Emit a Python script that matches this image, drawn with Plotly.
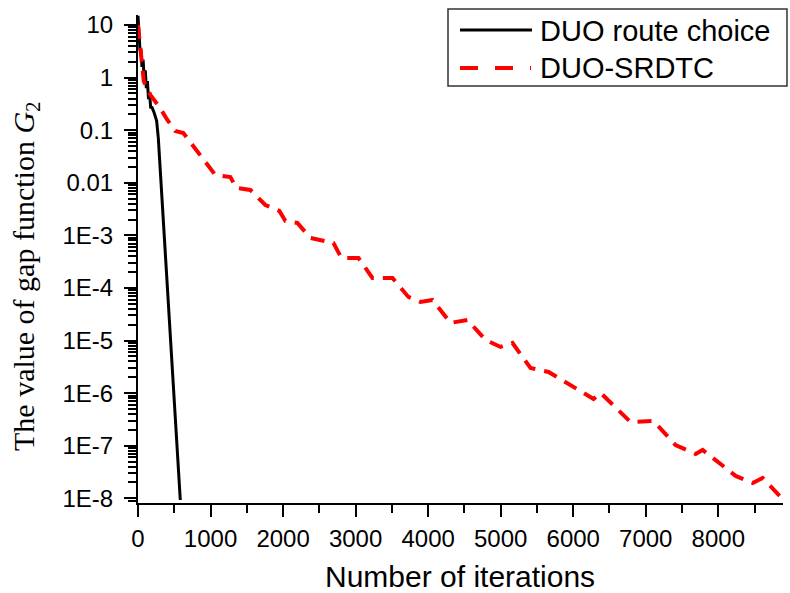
import plotly.graph_objects as go

# Convergence of the gap function G2 for two assignment models
duo_iter = [0, 28, 40, 55, 70, 85, 100, 115, 130, 145, 160, 175, 188, 220, 257, 280, 583]
duo_gap = [15.0, 3.2, 3.5, 1.6, 2.2, 1.0, 1.37, 0.63, 0.86, 0.39, 0.52, 0.26, 0.28,
           0.22, 0.15, 0.071, 9.3e-9]

srdtc_iter = [0, 45, 80, 170, 300, 400, 514, 625, 901, 1066, 1273, 1356, 1549, 1756,
              1949, 2032, 2197, 2377, 2694, 2804, 3039, 3232, 3508, 3728, 3894, 4059,
              4308, 4542, 4790, 4997, 5163, 5411, 5659, 5962, 6280, 6377, 6790,
              7108, 7411, 7687, 7784, 8239, 8474, 8611, 8859]
srdtc_gap = [10.0, 2.16, 0.85, 0.47, 0.27, 0.16, 0.0966, 0.0885, 0.0271, 0.01406,
             0.01288, 7.96e-3, 7.30e-3, 3.78e-3, 2.91e-3, 1.88e-3, 1.72e-3, 8.93e-4,
             7.18e-4, 3.72e-4, 3.72e-4, 1.55e-4, 1.55e-4, 6.74e-5, 5.42e-5,
             5.91e-5, 2.16e-5, 2.47e-5, 1.03e-5, 7.55e-6, 8.99e-6, 3.01e-6,
             2.53e-6, 1.45e-6, 7.76e-7, 1.01e-6, 2.83e-7, 2.96e-7, 1.03e-7,
             6.98e-8, 8.32e-8, 2.67e-8, 1.96e-8, 2.44e-8, 1.06e-8]

y_labels = ["1E-8", "1E-7", "1E-6", "1E-5", "1E-4", "1E-3", "0.01", "0.1", "1", "10"]
series_names = ["DUO route choice", "DUO-SRDTC"]

W, H = 790, 593
ML, MR, MT, MB = 138, 7, 15, 90
PW, PH = W - ML - MR, H - MT - MB
X_RANGE = [0, 8892]
Y_RANGE = [-8.089, 1.19]

def px_x(p):
    return (p - ML) / PW

def px_y(p):
    return (H - MB - p) / PH

fig = go.Figure()
fig.add_trace(go.Scatter(x=duo_iter, y=duo_gap, mode="lines", name=series_names[0],
                         line=dict(color="black", width=3), showlegend=False))
fig.add_trace(go.Scatter(x=srdtc_iter, y=srdtc_gap, mode="lines", name=series_names[1],
                         line=dict(color="#ff0000", width=4, dash="14px,9px"),
                         showlegend=False))

# plotly writes small powers as 1E−n (typographic minus); show them with a hyphen
y_alias = {}
for lab in y_labels:
    y_alias[lab.replace("-", "\u2212")] = lab

axis_font = dict(family="Liberation Sans, Arial, sans-serif", size=24, color="black")

fig.update_layout(
    width=W, height=H,
    margin=dict(l=ML, r=MR, t=MT, b=MB),
    plot_bgcolor="white", paper_bgcolor="white",
    xaxis=dict(range=X_RANGE, tickmode="linear", tick0=0, dtick=1000,
               ticks="outside", ticklen=12, tickwidth=2, tickcolor="black",
               showline=True, linecolor="black", linewidth=2, showgrid=False,
               zeroline=False, tickfont=axis_font, ticklabelstandoff=1,
               minor=dict(dtick=500, ticks="outside", ticklen=8, tickwidth=2,
                          tickcolor="black")),
    yaxis=dict(type="log", range=Y_RANGE, tickmode="linear", tick0=0, dtick=1,
               exponentformat="E", labelalias=y_alias,
               ticks="outside", ticklen=12, tickwidth=2, tickcolor="black",
               showline=True, linecolor="black", linewidth=2, showgrid=False,
               zeroline=False, tickfont=axis_font, ticklabelstandoff=6,
               minor=dict(dtick="D1", ticks="outside", ticklen=8, tickwidth=2,
                          tickcolor="black")),
    showlegend=False,
)

# axis titles
fig.add_annotation(text="Number of iterations", xref="paper", yref="paper",
                   x=px_x(460), y=px_y(576), xanchor="center", yanchor="middle",
                   showarrow=False,
                   font=dict(family="Liberation Sans, Arial, sans-serif", size=30, color="black"))
fig.add_annotation(text="The value of gap function <i>G</i><sub>2</sub>",
                   xref="paper", yref="paper", x=px_x(26), y=px_y(276),
                   xanchor="center", yanchor="middle", textangle=-90, showarrow=False,
                   font=dict(family="Liberation Serif, Times New Roman, serif", size=30,
                             color="black"))

# legend box
fig.add_shape(type="rect", xref="paper", yref="paper",
              x0=px_x(448), x1=px_x(787), y0=px_y(86), y1=px_y(9),
              line=dict(color="#333333", width=1.5), fillcolor="white", layer="above")
fig.add_shape(type="line", xref="paper", yref="paper",
              x0=px_x(460), x1=px_x(532), y0=px_y(30), y1=px_y(30),
              line=dict(color="black", width=3), layer="above")
fig.add_shape(type="line", xref="paper", yref="paper",
              x0=px_x(460), x1=px_x(531), y0=px_y(68), y1=px_y(68),
              line=dict(color="#ff0000", width=4, dash="18px,17px"), layer="above")
legend_font = dict(family="Liberation Sans, Arial, sans-serif", size=29, color="black")
fig.add_annotation(text=series_names[0], xref="paper", yref="paper",
                   x=px_x(538), y=px_y(31), xanchor="left", yanchor="middle",
                   showarrow=False, font=legend_font)
fig.add_annotation(text=series_names[1], xref="paper", yref="paper",
                   x=px_x(538), y=px_y(68), xanchor="left", yanchor="middle",
                   showarrow=False, font=legend_font)

fig.write_html("out.html")
